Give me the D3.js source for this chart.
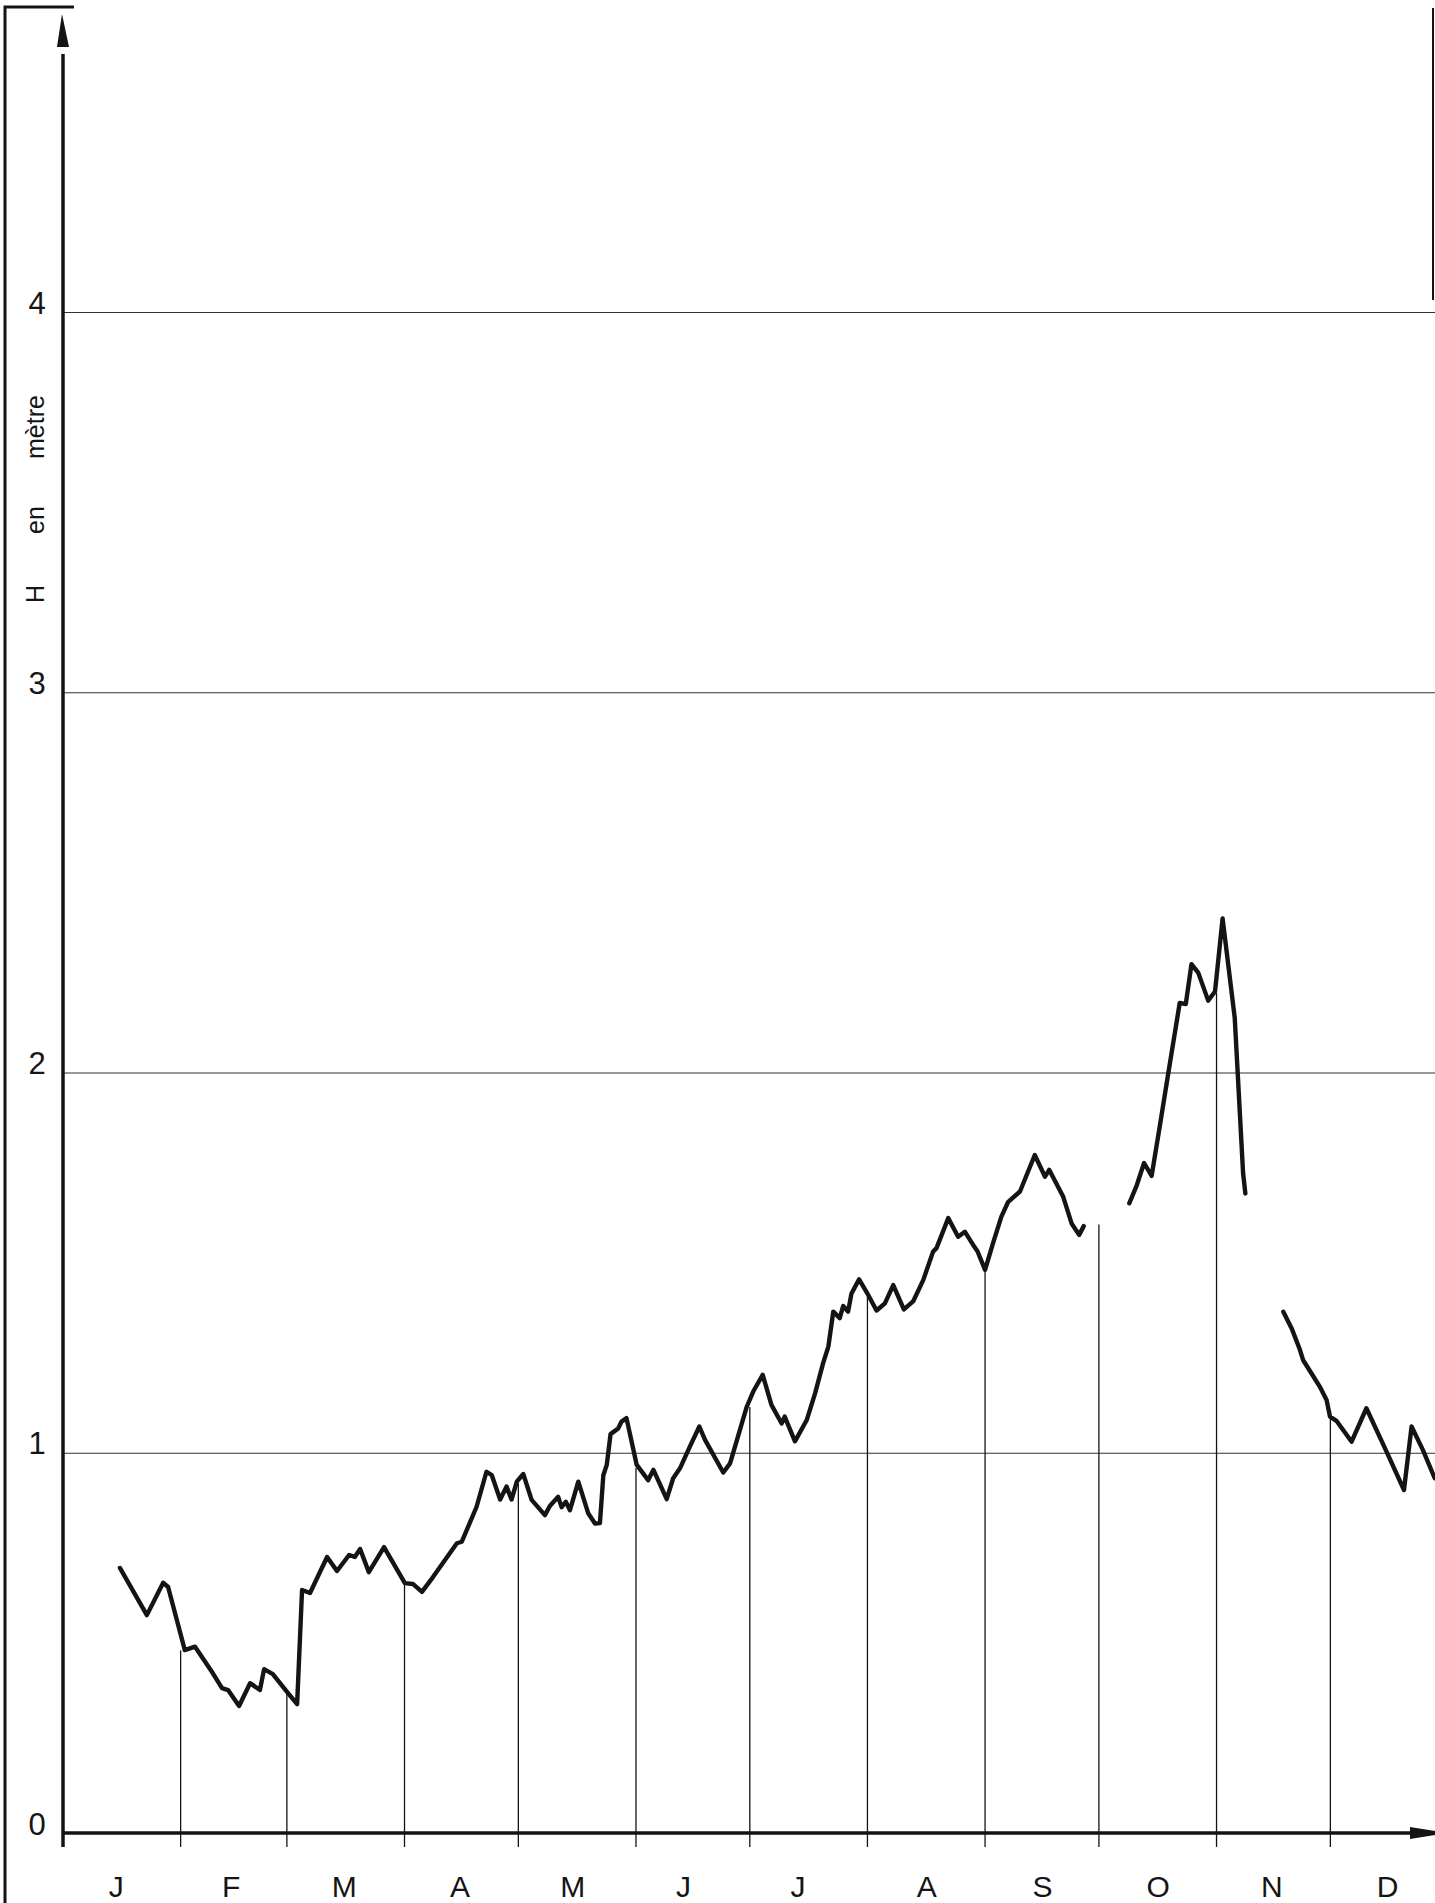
<!DOCTYPE html>
<html><head><meta charset="utf-8">
<script src="https://cdn.jsdelivr.net/npm/d3@7"></script>
<style>
body{margin:0;background:#fff}
svg{display:block;background:#fff}
text{font-family:"Liberation Sans",Arial,sans-serif;fill:#151515}
</style>
</head><body><svg id="c" width="1435" height="1903"></svg>
<script>
// ---- data ----
const months = ["J","F","M","A","M","J","J","A","S","O","N","D"];
const monthStart = [0,31,59,90,120,151,181,212,243,273,304,334,365];
const monthLineTop = [null,0.48,0.37,0.66,0.92,0.96,1.12,1.41,1.48,1.60,2.21,1.09];
const yTicks = [0,1,2,3,4];
const yTitle = ["H","en","mètre"];
// day of year / water level in metres (null = gap in the record)
const days = [
 15.0,22.1,26.4,27.7,30.0,32.1,34.8,39.5,41.9,43.5,46.4,49.3,51.9,53.0,55.3,59.3,61.7,
 63.0,65.1,69.6,72.2,75.4,76.9,78.3,80.6,84.6,90.1,92.2,94.6,97.5,103.8,
 105.1,109.0,111.6,113.0,115.2,116.9,118.2,119.6,121.3,123.5,127.0,128.3,130.5,131.4,132.5,133.6,
 135.8,138.4,140.2,141.5,142.4,143.3,144.3,146.3,147.2,148.5,151.2,154.2,155.6,159.1,160.8,162.6,
 165.2,167.7,169.2,174.0,175.8,180.2,181.9,184.4,186.7,189.4,190.2,192.9,
 196.0,198.2,200.3,201.7,203.0,204.7,205.6,206.9,207.8,209.8,212.2,214.4,216.6,218.8,221.6,224.1,
 226.7,229.3,230.2,233.3,235.9,237.7,239.9,241.0,243.0,245.1,247.3,249.1,252.2,256.1,258.8,259.9,
 263.6,265.8,267.8,269.0,
 null,
 281.0,283.0,284.9,286.9,289.1,291.3,294.3,295.9,297.4,299.2,301.8,303.6,305.6,308.8,311.0,311.6,
 null,
 321.6,323.8,326.0,326.8,329.0,331.2,333.0,333.9,335.6,339.6,343.5,348.8,353.4,355.4,358.4,361.5
];
const levels = [
 0.697,0.573,0.658,0.647,0.560,0.481,0.490,0.420,0.381,0.376,0.334,0.394,0.376,0.431,0.418,0.368,0.339,
 0.639,0.631,0.726,0.689,0.731,0.726,0.747,0.686,0.752,0.657,0.655,0.634,0.673,0.762,
 0.766,0.858,0.950,0.941,0.877,0.911,0.877,0.924,0.944,0.876,0.836,0.860,0.884,0.857,0.871,0.849,
 0.924,0.841,0.814,0.815,0.941,0.968,1.049,1.064,1.082,1.091,0.968,0.928,0.955,0.878,0.933,0.959,
 1.016,1.069,1.034,0.948,0.972,1.121,1.161,1.205,1.126,1.077,1.095,1.030,
 1.086,1.156,1.235,1.279,1.371,1.354,1.386,1.371,1.419,1.456,1.415,1.374,1.393,1.441,1.377,1.399,
 1.454,1.529,1.538,1.617,1.568,1.581,1.546,1.530,1.481,1.551,1.621,1.660,1.687,1.783,1.726,1.744,
 1.673,1.603,1.573,1.596,
 null,
 1.656,1.704,1.762,1.728,1.862,1.999,2.183,2.180,2.285,2.262,2.189,2.213,2.405,2.143,1.735,1.682,
 null,
 1.371,1.327,1.270,1.244,1.209,1.174,1.139,1.095,1.084,1.029,1.117,1.003,0.902,1.069,1.007,0.933
];

// ---- layout ----
const W = 1435, H = 1903;
const x = d3.scaleLinear().domain([0,365]).range([63,1448]);
const y = d3.scaleLinear().domain([0,4]).range([1833,312]);
const ink = "#141414";
const FONT = "'Liberation Sans',Arial,sans-serif";
const labelShift = [-6,-3,-2,-2,-5,-10,-11,0,0,0,-2,-2]; // hand-lettering offsets (px)
const svg = d3.select("#c");

// frame fragments (scanned page border)
svg.append("path").attr("d","M5,1903 V7 H74").attr("fill","none").attr("stroke",ink).attr("stroke-width",3);
svg.append("line").attr("x1",1433).attr("x2",1433).attr("y1",8).attr("y2",300).attr("stroke",ink).attr("stroke-width",2);

// horizontal grid lines
const grid = svg.append("g").attr("transform","translate(63,0)")
  .call(d3.axisRight(y).tickValues(yTicks.filter(d=>d>0)).tickSize(W-63).tickFormat(""));
grid.select(".domain").remove();
grid.selectAll(".tick line").attr("stroke","#333").attr("stroke-width",1.2);

// y labels
const yl = svg.append("g").attr("transform","translate(63,0)")
  .call(d3.axisLeft(y).tickValues(yTicks).tickSize(0).tickPadding(0).tickFormat(d3.format("d")));
yl.attr("font-size",null).attr("font-family",null);
yl.select(".domain").remove();
yl.selectAll(".tick text").attr("x",-26).attr("dy",0).attr("y",1)
  .attr("text-anchor","middle").attr("fill",ink)
  .style("font-size","31px").style("font-family",FONT);

// y title (rotated)
const titleCenters = [594,520,427];
yTitle.forEach((t,i)=>{
  svg.append("text").attr("transform",`translate(44,${titleCenters[i]}) rotate(-90)`)
    .attr("text-anchor","middle").attr("fill",ink).style("font-size","25px").text(t);
});

// month vertical lines (from curve level on the 1st of each month down below the axis)
svg.append("g").selectAll("line").data(monthLineTop.map((v,i)=>({v,d:monthStart[i]})).filter(o=>o.v!==null))
  .join("line")
  .attr("x1",o=>x(o.d)).attr("x2",o=>x(o.d))
  .attr("y1",o=>y(o.v)).attr("y2",y(0)+14)
  .attr("stroke",ink).attr("stroke-width",1.3);

// x axis labels
const mid = months.map((m,i)=>(monthStart[i]+monthStart[i+1])/2);
const xl = svg.append("g").attr("transform",`translate(0,${y(0)})`)
  .call(d3.axisBottom(x).tickValues(mid).tickSize(0).tickFormat((d,i)=>months[i]));
xl.attr("font-size",null).attr("font-family",null);
xl.select(".domain").remove();
xl.selectAll(".tick text").attr("x",(d,i)=>labelShift[i]).attr("y",64).attr("dy",0).attr("fill",ink)
  .style("font-size","30px").style("font-family",FONT);

// axes lines
svg.append("line").attr("x1",x(0)).attr("x2",1415).attr("y1",y(0)).attr("y2",y(0))
  .attr("stroke",ink).attr("stroke-width",3.5);
svg.append("path").attr("d",`M1410,${y(0)-6} L1448,${y(0)} L1410,${y(0)+6} Z`).attr("fill",ink);
svg.append("line").attr("x1",x(0)).attr("x2",x(0)).attr("y1",54).attr("y2",y(0)+14)
  .attr("stroke",ink).attr("stroke-width",3.5);
svg.append("path").attr("d",`M${x(0)-1},14 L${x(0)+6},47 L${x(0)-6},47 Z`).attr("fill",ink);

// curve
const pts = days.map((d,i)=>({d, v: levels[i]}));
const line = d3.line().defined(p=>p.d!==null && p.v!==null).x(p=>x(p.d)).y(p=>y(p.v));
svg.append("path").datum(pts).attr("d",line)
  .attr("fill","none").attr("stroke",ink).attr("stroke-width",4.4)
  .attr("stroke-linejoin","round").attr("stroke-linecap","round");
</script>
</body></html>
